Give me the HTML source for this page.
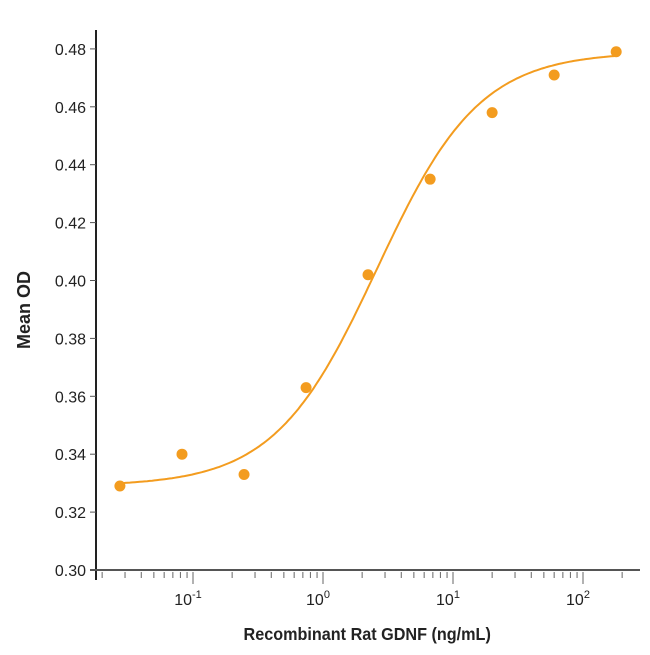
<!DOCTYPE html>
<html><head><meta charset="utf-8"><style>
body{margin:0;background:#fff;}
svg text{font-family:"Liberation Sans",sans-serif;}
</style></head><body>
<svg id="chart" width="650" height="650"></svg>
<script>
const concs=[0.0274,0.0823,0.247,0.741,2.22,6.67,20,60,180];
const ods=[0.329,0.340,0.333,0.363,0.402,0.435,0.458,0.471,0.479];
const yTicks=[0.30,0.32,0.34,0.36,0.38,0.40,0.42,0.44,0.46,0.48];
const xDecades=[-1,0,1,2];
const fitParams=[0.329,0.479,2.6,1.1]; // bottom, top, EC50, hill
const svg=document.getElementById('chart');
const NS='http://www.w3.org/2000/svg';
const xs=v=>193+(Math.log10(v)+1)*130;
const ys=v=>570-(v-0.30)/0.02*57.9;
function mk(t,a,p){const e=document.createElementNS(NS,t);for(const k in a)e.setAttribute(k,a[k]);(p||svg).appendChild(e);return e;}
const col='#f39c1f';
let e=mk('line',{x1:96,y1:30,x2:96,y2:580,stroke:'#222','stroke-width':2});


e=mk('line',{x1:90,y1:570,x2:640,y2:570,stroke:'#555','stroke-width':2});


yTicks.forEach(v=>{
  const y=ys(v);
  let t=mk('line',{x1:90,y1:y,x2:96,y2:y,stroke:'#555','stroke-width':1});
  
  
  let l=mk('text',{x:86,y:y+6,'text-anchor':'end','font-size':16,fill:'#222'});
  l.textContent=v.toFixed(2);
  
  
});
for(let d=-2;d<=2;d++){for(let m=1;m<10;m++){
  const v=m*Math.pow(10,d);const x=xs(v);if(x<100||x>640)continue;
  let t=mk('line',{x1:x,y1:572,x2:x,y2:m==1?584:578,stroke:'#666','stroke-width':1});
  
  
}}
xDecades.forEach(d=>{
  let l=mk('text',{x:xs(Math.pow(10,d))-5,y:605,'text-anchor':'middle','font-size':16,fill:'#222'});
  l.innerHTML='10<tspan dy="-7" font-size="11">'+d+'</tspan>';
  
  
});
let xt=mk('text',{x:368,y:640,'text-anchor':'middle','font-size':18,'font-weight':'bold',fill:'#222',transform:'scale(0.9,1) translate(40,0)'});
xt.textContent='Recombinant Rat GDNF (ng/mL)';


let yt=mk('text',{x:0,y:0,'text-anchor':'middle','font-size':18,'font-weight':'bold',fill:'#222',transform:'translate(30,310) rotate(-90)'});
yt.textContent='Mean OD';


const [b,tp,ec,h]=fitParams;let pts=[];
const lo=Math.log10(concs[0]),hi=Math.log10(concs[concs.length-1]);
for(let i=0;i<=200;i++){const lv=lo+(hi-lo)*i/200;const v=Math.pow(10,lv);const o=b+(tp-b)/(1+Math.pow(ec/v,h));pts.push(xs(v).toFixed(1)+','+ys(o).toFixed(1));}
let c=mk('polyline',{points:pts.join(' '),fill:'none',stroke:col,'stroke-width':2});


concs.forEach((v,i)=>{
  let p=mk('circle',{cx:xs(v),cy:ys(ods[i]),r:5.5,fill:col});
  
  
});
</script>
</body></html>
